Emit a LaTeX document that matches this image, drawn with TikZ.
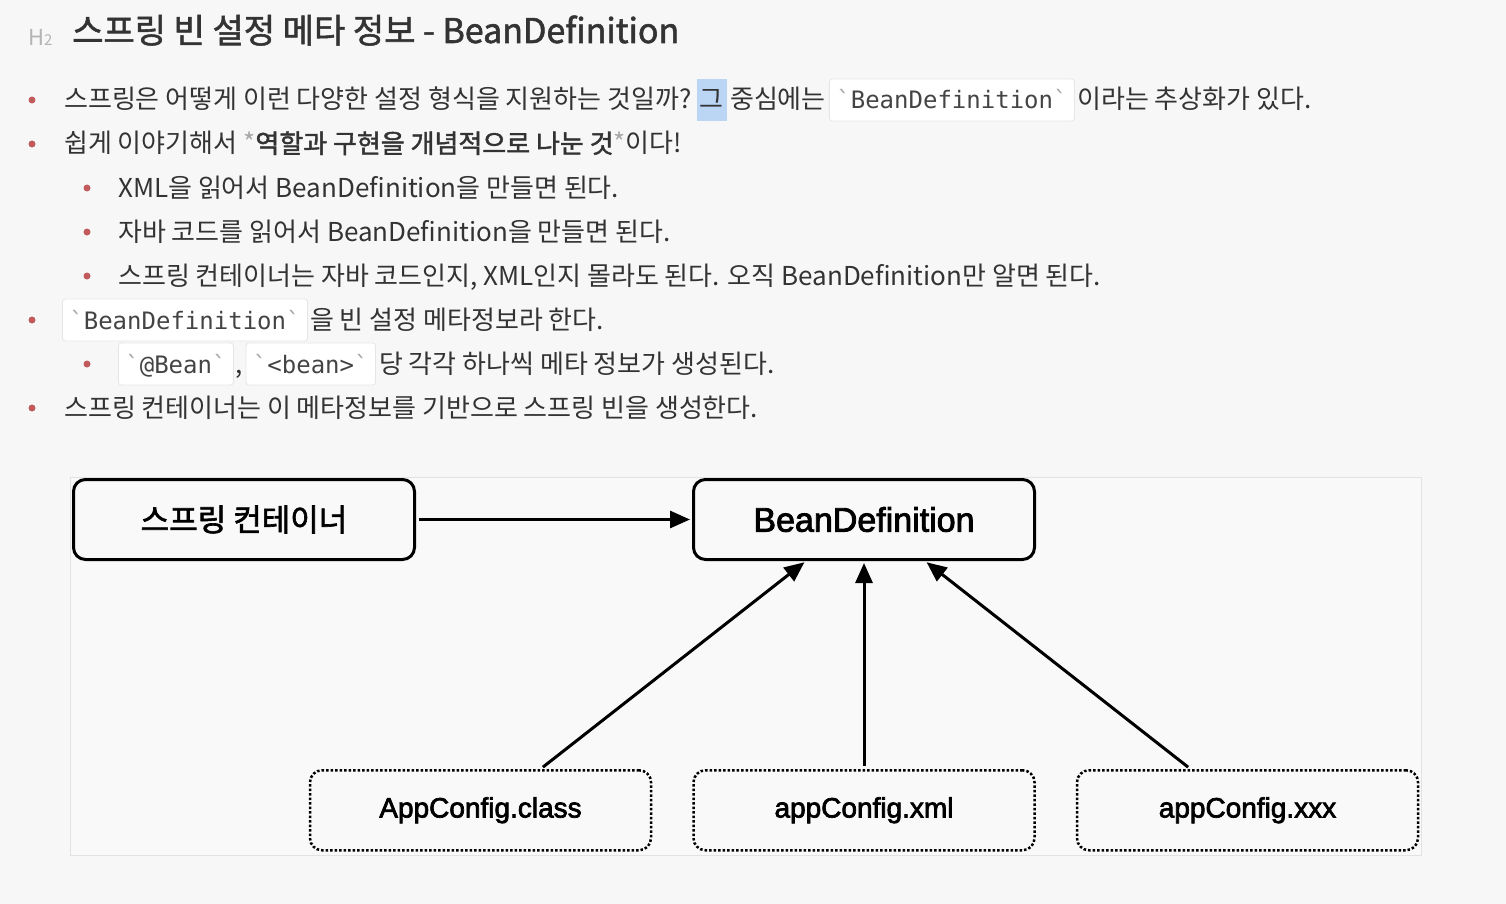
\documentclass[tikz,border=0pt]{standalone}
\usepackage{fontspec}
\setmainfont{Noto Sans CJK KR}[BoldFont={Noto Sans CJK KR}, BoldFeatures={FakeBold=1.6}]
\setmonofont{DejaVu Sans Mono}
\newfontfamily\diagfont{Liberation Sans}[FakeBold=2.5]
\newfontfamily\diagkr{Noto Sans CJK KR}[FakeBold=2]
\usetikzlibrary{positioning,arrows.meta}

\definecolor{pagebg}{HTML}{F7F7F7}
\definecolor{panelbg}{HTML}{F9F9F9}
\definecolor{panelline}{HTML}{E2E2E2}
\definecolor{ink}{HTML}{333333}
\definecolor{codeink}{HTML}{444444}
\definecolor{codeline}{HTML}{E6E6E6}
\definecolor{tickgray}{HTML}{A8A8A8}
\definecolor{hgray}{HTML}{B4B4B4}
\definecolor{bulletred}{HTML}{C25B5B}
\definecolor{hl}{HTML}{BBD5F5}

\newcommand{\tick}{\textcolor{tickgray}{`}}
\newcommand{\emstar}{\textcolor{tickgray}{*}}

\begin{document}
\begin{tikzpicture}[
        x=1pt, y=-1pt,
        txt/.style={
            anchor=west,
            inner sep=0pt,
            text height=21.5pt,
            text depth=3.5pt,
            text=ink,
            font=\fontsize{26}{30}\selectfont
        },
        code/.style={
            txt,
            fill=white,
            draw=codeline,
            line width=0.8pt,
            rounded corners=3pt,
            inner xsep=7pt,
            inner ysep=8.5pt,
            text=codeink,
            font=\fontsize{24}{28}\ttfamily
        },
        box/.style={
            rectangle,
            draw,
            line width=3pt,
            fill=panelbg,
            minimum width=341pt,
            minimum height=80pt,
            align=center,
            rounded corners=12pt
        },
        cfgbox/.style={
            box,
            line width=2.5pt,
            dash pattern=on 2.5pt off 2pt,
            font=\diagfont\fontsize{28}{34}\selectfont
        },
        arrow/.style={
            -{Triangle[length=20pt,width=17pt]},
            line width=3pt,
            shorten <=3pt,
            shorten >=2pt
        }
    ]

    % Page
    \useasboundingbox[fill=pagebg] (0,0) rectangle (1506,904);

    % Heading
    \node[txt, text=hgray, font=\fontsize{22}{26}\selectfont] (h2) at (28,37) {H\fontsize{15}{18}\selectfont 2};
    \node[txt, text height=28pt, text depth=4pt, font=\fontsize{34}{40}\bfseries] (title) at (72,31) {스프링 빈 설정 메타 정보 - BeanDefinition};

    % Bullets
    \foreach \y in {100,144,320,408}
        \fill[bulletred] (32,\y) circle (3.5pt);
    \foreach \y in {188,232,276,364}
        \fill[bulletred] (87,\y) circle (3.5pt);

    % First line
    \node[txt] (l1a) at (64,100) {스프링은 어떻게 이런 다양한 설정 형식을 지원하는 것일까?};
    \node[txt, fill=hl, inner xsep=3pt, inner ysep=8.5pt, right=5pt of l1a] (l1hl) {그};
    \node[txt, right=3pt of l1hl] (l1b) {중심에는};
    \node[code, right=3pt of l1b] (l1code) {\tick BeanDefinition\tick};
    \node[txt, right=2pt of l1code] (l1c) {이라는 추상화가 있다.};

    % Second line
    \node[txt] (l2) at (64,144) {쉽게 이야기해서 \emstar\textbf{역할과 구현을 개념적으로 나눈 것}\emstar 이다!};
    \node[txt] (l3) at (118,188) {XML을 읽어서 BeanDefinition을 만들면 된다.};
    \node[txt] (l4) at (118,232) {자바 코드를 읽어서 BeanDefinition을 만들면 된다.};
    \node[txt] (l5) at (118,276) {스프링 컨테이너는 자바 코드인지, XML인지 몰라도 된다. 오직 BeanDefinition만 알면 된다.};

    % Meta info lines
    \node[code] (l6code) at (62,320) {\tick BeanDefinition\tick};
    \node[txt, right=2pt of l6code] (l6) {을 빈 설정 메타정보라 한다.};
    \node[code] (l7a) at (118,364) {\tick @Bean\tick};
    \node[txt, right=1pt of l7a] (l7comma) {,};
    \node[code, right=3pt of l7comma] (l7b) {\tick <bean>\tick};
    \node[txt, right=3pt of l7b] (l7) {당 각각 하나씩 메타 정보가 생성된다.};
    \node[txt] (l8) at (64,408) {스프링 컨테이너는 이 메타정보를 기반으로 스프링 빈을 생성한다.};

    % Diagram panel
    \draw[fill=panelbg, draw=panelline, line width=1pt] (70,477) rectangle (1421,855);

    % Container and BeanDefinition
    \node[box, font=\diagkr\fontsize{31}{36}\selectfont] (container) at (244,519.5) {스프링 컨테이너};
    \node[box, right=276pt of container, font=\diagfont\fontsize{34}{40}\selectfont] (beandef) {BeanDefinition};

    % Config sources
    \node[cfgbox, below=208pt of beandef] (xml) {appConfig.xml};
    \node[cfgbox, left=40pt of xml] (cls) {AppConfig.class};
    \node[cfgbox, right=40pt of xml] (xxx) {appConfig.xxx};

    % Connections
    \draw[arrow] (container) -- (beandef);
    \draw[arrow] ([xshift=60pt]cls.north) -- ([xshift=-58pt]beandef.south);
    \draw[arrow] (xml) -- (beandef);
    \draw[arrow] ([xshift=-57pt]xxx.north) -- ([xshift=61pt]beandef.south);

\end{tikzpicture}
\end{document}
